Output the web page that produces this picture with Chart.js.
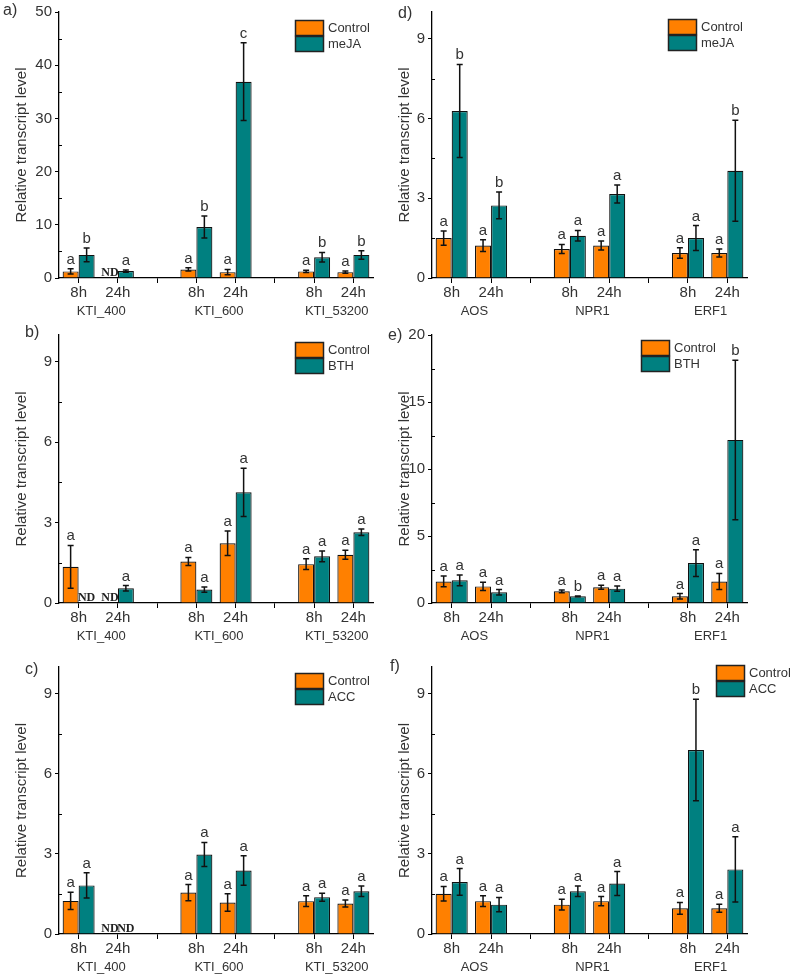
<!DOCTYPE html>
<html>
<head>
<meta charset="utf-8">
<script src="https://cdn.jsdelivr.net/npm/chart.js@4.4.1/dist/chart.umd.min.js"></script>
<style>
  body { margin: 0; background: #fff; }
  #wrap { position: relative; width: 793px; height: 977px; overflow: hidden; }
  canvas { position: absolute; }
</style>
</head>
<body>
<div id="wrap">
  <canvas id="pa" width="386" height="320" style="left:0;top:0"></canvas>
  <canvas id="pd" width="407" height="320" style="left:386px;top:0"></canvas>
  <canvas id="pb" width="386" height="325" style="left:0;top:320px"></canvas>
  <canvas id="pe" width="407" height="325" style="left:386px;top:320px"></canvas>
  <canvas id="pc" width="386" height="332" style="left:0;top:645px"></canvas>
  <canvas id="pf" width="407" height="332" style="left:386px;top:645px"></canvas>
</div>
<script>
//-------------------------------------------------- Data
const times = ['8h', '24h', '', '8h', '24h', '', '8h', '24h'];
const genesKTI = ['KTI_400', 'KTI_600', 'KTI_53200'];
const genesDef = ['AOS', 'NPR1', 'ERF1'];

// a) meJA, KTI genes
const aCtrl = [1.24, null, null, 1.61, 1.1, null, 1.24, 1.1];
const aCtrlErr = [0.5, null, null, 0.3, 0.5, null, 0.2, 0.2];
const aTrt = [4.34, 1.3, null, 9.6, 36.9, null, 3.9, 4.34];
const aTrtErr = [1.3, 0.2, null, 2.07, 7.3, null, 0.9, 0.8];
const aCtrlSig = ['a', 'ND', '', 'a', 'a', '', 'a', 'a'];
const aTrtSig = ['b', 'a', '', 'b', 'c', '', 'b', 'b'];

// b) BTH, KTI genes
const bCtrl = [1.35, null, null, 1.55, 2.23, null, 1.45, 1.8];
const bCtrlErr = [0.8, null, null, 0.15, 0.46, null, 0.2, 0.17];
const bTrt = [null, 0.55, null, 0.5, 4.13, null, 1.74, 2.64];
const bTrtErr = [null, 0.1, null, 0.1, 0.9, null, 0.2, 0.12];
const bCtrlSig = ['a', 'ND', '', 'a', 'a', '', 'a', 'a'];
const bTrtSig = ['ND', 'a', '', 'a', 'a', '', 'a', 'a'];

// c) ACC, KTI genes
const cCtrl = [1.24, null, null, 1.55, 1.18, null, 1.23, 1.14];
const cCtrlErr = [0.32, null, null, 0.3, 0.33, null, 0.2, 0.13];
const cTrt = [1.82, null, null, 2.98, 2.38, null, 1.38, 1.6];
const cTrtErr = [0.47, null, null, 0.45, 0.55, null, 0.15, 0.2];
const cCtrlSig = ['a', 'ND', '', 'a', 'a', '', 'a', 'a'];
const cTrtSig = ['a', 'ND', '', 'a', 'a', '', 'a', 'a'];

// d) meJA, defence genes
const dCtrl = [1.5, 1.22, null, 1.09, 1.22, null, 0.94, 0.94];
const dCtrlErr = [0.27, 0.22, null, 0.17, 0.17, null, 0.2, 0.15];
const dTrt = [6.28, 2.73, null, 1.59, 3.16, null, 1.5, 4.03];
const dTrtErr = [1.75, 0.5, null, 0.2, 0.34, null, 0.47, 1.9];
const dCtrlSig = ['a', 'a', '', 'a', 'a', '', 'a', 'a'];
const dTrtSig = ['b', 'b', '', 'a', 'a', '', 'a', 'b'];

// e) BTH, defence genes
const eCtrl = [1.61, 1.24, null, 0.87, 1.17, null, 0.5, 1.61];
const eCtrlErr = [0.4, 0.3, null, 0.1, 0.15, null, 0.2, 0.6];
const eTrt = [1.69, 0.8, null, 0.5, 1.07, null, 2.98, 12.17];
const eTrtErr = [0.4, 0.2, null, 0.03, 0.2, null, 1.0, 5.95];
const eCtrlSig = ['a', 'a', '', 'a', 'a', '', 'a', 'a'];
const eTrtSig = ['a', 'a', '', 'b', 'a', '', 'a', 'b'];

// f) ACC, defence genes
const fCtrl = [1.51, 1.23, null, 1.1, 1.23, null, 0.96, 0.96];
const fCtrlErr = [0.27, 0.2, null, 0.2, 0.17, null, 0.22, 0.15];
const fTrt = [1.95, 1.1, null, 1.6, 1.89, null, 6.89, 2.42];
const fTrtErr = [0.5, 0.27, null, 0.2, 0.45, null, 1.9, 1.22];
const fCtrlSig = ['a', 'a', '', 'a', 'a', '', 'a', 'a'];
const fTrtSig = ['a', 'a', '', 'a', 'a', '', 'b', 'a'];
//^^^^^^^^^^^^^^^^^^^^^^^^^^^^^^^^^^^^^^^^^^^^^^^^^^ Data

const COL_CTRL = '#ff8000';
const COL_TRT = '#008080';
const FONT = '"Liberation Sans", Arial, sans-serif';
const TXT = '#333';

// error bars, letters, ND marks, legend, group names, panel letter
function extras(p) {
    return {
        id: 'extras',
        afterDraw(chart) {
            const ctx = chart.ctx;
            const xs = chart.scales.x, ys = chart.scales.y;
            const area = chart.chartArea;
            const barW = xs.width / times.length * 0.815 / 2;
            ctx.save();

            // minor ticks on y axis
            ctx.strokeStyle = '#000';
            ctx.lineWidth = 1;
            for (let v = p.step / 2; v < p.max; v += p.step) {
                const y = Math.round(ys.getPixelForValue(v)) + 0.5;
                ctx.beginPath();
                ctx.moveTo(area.left, y);
                ctx.lineTo(area.left + 3, y);
                ctx.stroke();
            }

            chart.data.datasets.forEach((ds, di) => {
                const meta = chart.getDatasetMeta(di);
                ds.data.forEach((v, j) => {
                    let x = meta.data[j] ? meta.data[j].x : NaN;
                    if (!isFinite(x)) x = xs.getPixelForValue(j) + (di === 0 ? -1 : 1) * barW / 2;
                    const sig = ds.sig[j];
                    if (v == null) {
                        if (sig === 'ND') {
                            ctx.font = 'bold 12px "Liberation Serif", "DejaVu Serif", serif';
                            ctx.fillStyle = '#222';
                            ctx.textAlign = 'center';
                            ctx.textBaseline = 'alphabetic';
                            ctx.fillText('ND', x, ys.getPixelForValue(0) - 2);
                        }
                        return;
                    }
                    const e = ds.err[j];
                    const yT = ys.getPixelForValue(v + e);
                    const yB = ys.getPixelForValue(Math.max(v - e, 0));
                    ctx.strokeStyle = '#111';
                    ctx.lineWidth = 1.5;
                    ctx.beginPath();
                    ctx.moveTo(x, yT); ctx.lineTo(x, yB);
                    ctx.moveTo(x - 3, yT); ctx.lineTo(x + 3, yT);
                    ctx.moveTo(x - 3, yB); ctx.lineTo(x + 3, yB);
                    ctx.stroke();
                    if (sig) {
                        ctx.font = '15px ' + FONT;
                        ctx.fillStyle = TXT;
                        ctx.textAlign = 'center';
                        ctx.textBaseline = 'alphabetic';
                        ctx.fillText(sig, x, yT - 5);
                    }
                });
            });

            // gene names under the time labels
            ctx.font = '13px ' + FONT;
            ctx.fillStyle = TXT;
            ctx.textAlign = 'center';
            ctx.textBaseline = 'middle';
            p.genes.forEach((g, k) => {
                const x = (xs.getPixelForValue(k * 3) + xs.getPixelForValue(k * 3 + 1)) / 2 + 3;
                ctx.fillText(g, x, area.bottom + 33);
            });

            // legend
            const lx = area.right + p.legend[0], ly = area.top + p.legend[1];
            [[COL_CTRL, 'Control'], [COL_TRT, p.trt]].forEach((it, k) => {
                ctx.fillStyle = it[0];
                ctx.fillRect(lx, ly + k * 16, 29, 16);
                ctx.strokeStyle = '#222';
                ctx.lineWidth = 1.5;
                ctx.strokeRect(lx + 0.5, ly + k * 16 + 0.5, 28, 15);
                ctx.fillStyle = TXT;
                ctx.font = '13px ' + FONT;
                ctx.textAlign = 'left';
                ctx.textBaseline = 'middle';
                ctx.fillText(it[1], lx + 33, ly + k * 16 + 8.5);
            });

            // panel letter
            ctx.font = '16px ' + FONT;
            ctx.fillStyle = TXT;
            ctx.textAlign = 'left';
            ctx.textBaseline = 'middle';
            ctx.fillText(p.label, p.labelPos[0], p.labelPos[1]);
            ctx.restore();
        }
    };
}

function makePanel(p) {
    const left = p.side === 'L';
    new Chart(document.getElementById(p.id), {
        type: 'bar',
        data: {
            labels: times,
            datasets: [
                { label: 'Control', data: p.ctrl, err: p.ctrlErr, sig: p.ctrlSig,
                  backgroundColor: COL_CTRL, borderColor: '#111', borderWidth: 1.2 },
                { label: p.trt, data: p.trtv, err: p.trtErr, sig: p.trtSig,
                  backgroundColor: COL_TRT, borderColor: '#111', borderWidth: 1.2 }
            ]
        },
        options: {
            responsive: false,
            animation: false,
            devicePixelRatio: 1,
            categoryPercentage: 0.815,
            barPercentage: 1,
            layout: { padding: { left: left ? 13 : 10, right: left ? 13 : 46, top: p.top, bottom: 0 } },
            plugins: { legend: { display: false }, tooltip: { enabled: false } },
            scales: {
                x: {
                    offset: true,
                    grid: { drawOnChartArea: false, offset: false, tickLength: 5, color: '#000', lineWidth: 1 },
                    border: { color: '#000', width: 1.3 },
                    ticks: { font: { family: FONT, size: 15 }, color: TXT, padding: 1, maxRotation: 0, autoSkip: false },
                    afterFit: s => { s.height = p.xH; }
                },
                y: {
                    min: 0,
                    max: p.max,
                    grid: { drawOnChartArea: false, tickLength: 4, color: '#000', lineWidth: 1 },
                    border: { color: '#000', width: 1.3 },
                    ticks: { stepSize: p.step, includeBounds: false, font: { family: FONT, size: 15 }, color: TXT, padding: 3 },
                    title: { display: true, text: 'Relative transcript level', font: { family: FONT, size: 15 }, color: TXT, padding: 0 },
                    afterFit: s => { s.width = left ? 46 : 36; }
                }
            }
        },
        plugins: [extras(p)]
    });
}

makePanel({ id: 'pa', side: 'L', label: 'a)', labelPos: [3, 11], top: 9, xH: 42, max: 50, step: 10,
    ctrl: aCtrl, ctrlErr: aCtrlErr, ctrlSig: aCtrlSig, trtv: aTrt, trtErr: aTrtErr, trtSig: aTrtSig,
    trt: 'meJA', genes: genesKTI, legend: [-78, 8] });
makePanel({ id: 'pb', side: 'L', label: 'b)', labelPos: [25, 13], top: 15, xH: 42, max: 10, step: 3,
    ctrl: bCtrl, ctrlErr: bCtrlErr, ctrlSig: bCtrlSig, trtv: bTrt, trtErr: bTrtErr, trtSig: bTrtSig,
    trt: 'BTH', genes: genesKTI, legend: [-78, 7] });
makePanel({ id: 'pc', side: 'L', label: 'c)', labelPos: [25, 25], top: 22, xH: 43, max: 10, step: 3,
    ctrl: cCtrl, ctrlErr: cCtrlErr, ctrlSig: cCtrlSig, trtv: cTrt, trtErr: cTrtErr, trtSig: cTrtSig,
    trt: 'ACC', genes: genesKTI, legend: [-78, 6] });
makePanel({ id: 'pd', side: 'R', label: 'd)', labelPos: [12, 14], top: 10, xH: 42, max: 10, step: 3,
    ctrl: dCtrl, ctrlErr: dCtrlErr, ctrlSig: dCtrlSig, trtv: dTrt, trtErr: dTrtErr, trtSig: dTrtSig,
    trt: 'meJA', genes: genesDef, legend: [-79, 7] });
makePanel({ id: 'pe', side: 'R', label: 'e)', labelPos: [2, 16], top: 15, xH: 42, max: 20, step: 5,
    ctrl: eCtrl, ctrlErr: eCtrlErr, ctrlSig: eCtrlSig, trtv: eTrt, trtErr: eTrtErr, trtSig: eTrtSig,
    trt: 'BTH', genes: genesDef, legend: [-106, 5] });
makePanel({ id: 'pf', side: 'R', label: 'f)', labelPos: [4, 22], top: 22, xH: 43, max: 10, step: 3,
    ctrl: fCtrl, ctrlErr: fCtrlErr, ctrlSig: fCtrlSig, trtv: fTrt, trtErr: fTrtErr, trtSig: fTrtSig,
    trt: 'ACC', genes: genesDef, legend: [-31, -2] });
</script>
</body>
</html>
